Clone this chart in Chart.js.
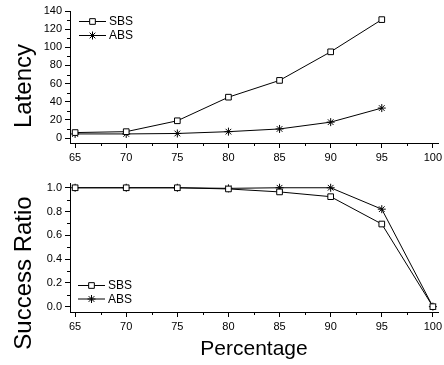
<!DOCTYPE html>
<html>
<head>
<meta charset="utf-8">
<script src="https://cdn.jsdelivr.net/npm/chart.js@4/dist/chart.umd.min.js"></script>
<style>
  html, body { margin: 0; padding: 0; background: #fff; }
  #wrap { position: relative; width: 444px; height: 365px; }
  #top { position: absolute; left: 0; top: 0; }
  #bottom { position: absolute; left: 0; top: 178px; }
</style>
</head>
<body>
<div id="wrap">
  <canvas id="top" width="444" height="178"></canvas>
  <canvas id="bottom" width="444" height="187"></canvas>
</div>
<script>
// Data
const percentTop = [65, 70, 75, 80, 85, 90, 95];
const latencySBS = [6, 7, 19, 45, 63.5, 95, 130.5];
const latencyABS = [4.5, 4.5, 5, 7, 10, 17.5, 33];

const percentBottom = [65, 70, 75, 80, 85, 90, 95, 100];
const ratioSBS = [1, 1, 1, 0.99, 0.965, 0.925, 0.695, 0];
const ratioABS = [1, 1, 1, 0.995, 1, 1, 0.82, 0];

const xTicks = [65, 70, 75, 80, 85, 90, 95, 100];
const xMinor = [67.5, 72.5, 77.5, 82.5, 87.5, 92.5, 97.5];
const latencyTicks = [0, 20, 40, 60, 80, 100, 120, 140];
const latencyMinor = [10, 30, 50, 70, 90, 110, 130];
const ratioTicks = [0, 0.2, 0.4, 0.6, 0.8, 1.0];
const ratioMinor = [0.1, 0.3, 0.5, 0.7, 0.9];

const FONT = "'Liberation Sans', Arial, sans-serif";

function points(xs, ys) {
  return xs.map((x, i) => ({ x: x, y: ys[i] }));
}

// Small marker drawing for the legend
function drawMarker(ctx, style, x, y, r) {
  ctx.beginPath();
  if (style === 'rect') {
    const s = r * Math.SQRT1_2;
    ctx.rect(x - s, y - s, 2 * s, 2 * s);
    ctx.fillStyle = '#fff';
    ctx.fill();
    ctx.stroke();
  } else {
    ctx.moveTo(x - r, y); ctx.lineTo(x + r, y);
    ctx.moveTo(x, y - r); ctx.lineTo(x, y + r);
    const d = r * Math.SQRT1_2;
    ctx.moveTo(x - d, y - d); ctx.lineTo(x + d, y + d);
    ctx.moveTo(x - d, y + d); ctx.lineTo(x + d, y - d);
    ctx.stroke();
  }
}

// Legend, minor ticks and the rotated y title
const decorPlugin = {
  id: 'decor',
  afterDraw(chart, args, opts) {
    const ctx = chart.ctx;
    const xs = chart.scales.x;
    const ys = chart.scales.y;
    ctx.save();
    ctx.strokeStyle = '#000';
    ctx.lineWidth = 1;

    // minor ticks
    ctx.beginPath();
    opts.xMinor.forEach(v => {
      const px = Math.round(xs.getPixelForValue(v)) + 0.5;
      ctx.moveTo(px, xs.top);
      ctx.lineTo(px, xs.top + 3);
    });
    opts.yMinor.forEach(v => {
      const py = Math.round(ys.getPixelForValue(v)) + 0.5;
      ctx.moveTo(ys.right, py);
      ctx.lineTo(ys.right - 3, py);
    });
    ctx.stroke();

    // legend
    ctx.font = '12px ' + FONT;
    ctx.textBaseline = 'middle';
    ctx.fillStyle = '#000';
    chart.data.datasets.forEach((ds, i) => {
      const y = opts.legendY + i * opts.legendGap;
      const x0 = opts.legendX;
      ctx.beginPath();
      ctx.moveTo(x0, y + 0.5);
      ctx.lineTo(x0 + 27, y + 0.5);
      ctx.stroke();
      drawMarker(ctx, ds.pointStyle, x0 + 13.5, y + 0.5, 4);
      ctx.fillStyle = '#000';
      ctx.fillText(ds.label, x0 + 30, y + 1);
    });

    // y title
    ctx.translate(opts.titleX, opts.titleY);
    ctx.rotate(-Math.PI / 2);
    ctx.textAlign = 'center';
    ctx.font = '24px ' + FONT;
    ctx.fillText(opts.title, 0, 0);
    ctx.restore();
  }
};

function makeChart(id, cfg) {
  return new Chart(document.getElementById(id), {
    type: 'line',
    data: {
      datasets: [{
        label: 'SBS',
        data: cfg.sbs,
        borderColor: '#000',
        borderWidth: 1,
        pointStyle: 'rect',
        pointRadius: 4,
        pointBackgroundColor: '#fff',
        pointBorderColor: '#000',
        pointBorderWidth: 1,
        tension: 0,
        clip: false
      }, {
        label: 'ABS',
        data: cfg.abs,
        borderColor: '#000',
        borderWidth: 1,
        pointStyle: 'star',
        pointRadius: 4,
        pointBackgroundColor: '#000',
        pointBorderColor: '#000',
        pointBorderWidth: 1,
        tension: 0,
        clip: false
      }]
    },
    options: {
      responsive: false,
      animation: false,
      layout: { padding: { top: cfg.padTop, right: 6, left: 0, bottom: 0 } },
      plugins: {
        legend: { display: false },
        tooltip: { enabled: false },
        decor: cfg.decor
      },
      scales: {
        x: {
          type: 'linear',
          min: 64.5,
          max: 100.5,
          afterBuildTicks: s => { s.ticks = xTicks.map(v => ({ value: v })); },
          afterFit: s => { s.height = cfg.xHeight; s.paddingLeft = 0; s.paddingRight = 0; },
          ticks: {
            color: '#000',
            font: { family: FONT, size: 11 },
            padding: 3,
            maxRotation: 0
          },
          grid: { drawOnChartArea: false, color: '#000', tickLength: 5 },
          border: { color: '#000', width: 1 },
          title: cfg.xTitle ? {
            display: true,
            text: cfg.xTitle,
            color: '#000',
            font: { family: FONT, size: 21 },
            padding: { top: 3, bottom: 3 }
          } : { display: false }
        },
        y: {
          min: cfg.yMin,
          max: cfg.yMax,
          afterBuildTicks: s => { s.ticks = cfg.yTicks.map(v => ({ value: v })); },
          afterFit: s => { s.width = 70; s.paddingTop = 0; s.paddingBottom = 0; },
          ticks: {
            color: '#000',
            font: { family: FONT, size: 11 },
            padding: 3,
            callback: cfg.yFormat
          },
          grid: { drawOnChartArea: false, color: '#000', tickLength: 5 },
          border: { color: '#000', width: 1 }
        }
      }
    },
    plugins: [decorPlugin]
  });
}

makeChart('top', {
  sbs: points(percentTop, latencySBS),
  abs: points(percentTop, latencyABS),
  padTop: 11,
  xHeight: 35,
  yMin: -5.5,
  yMax: 140,
  yTicks: latencyTicks,
  yFormat: v => String(v),
  decor: {
    xMinor: xMinor,
    yMinor: latencyMinor,
    legendX: 79,
    legendY: 21,
    legendGap: 14,
    title: 'Latency',
    titleX: 24,
    titleY: 86
  }
});

makeChart('bottom', {
  sbs: points(percentBottom, ratioSBS),
  abs: points(percentBottom, ratioABS),
  padTop: 4,
  xHeight: 53,
  yMin: -0.045,
  yMax: 1.04,
  yTicks: ratioTicks,
  yFormat: v => v.toFixed(1),
  xTitle: 'Percentage',
  decor: {
    xMinor: xMinor,
    yMinor: ratioMinor,
    legendX: 78,
    legendY: 107,
    legendGap: 13.5,
    title: 'Success Ratio',
    titleX: 24,
    titleY: 95
  }
});
</script>
</body>
</html>
